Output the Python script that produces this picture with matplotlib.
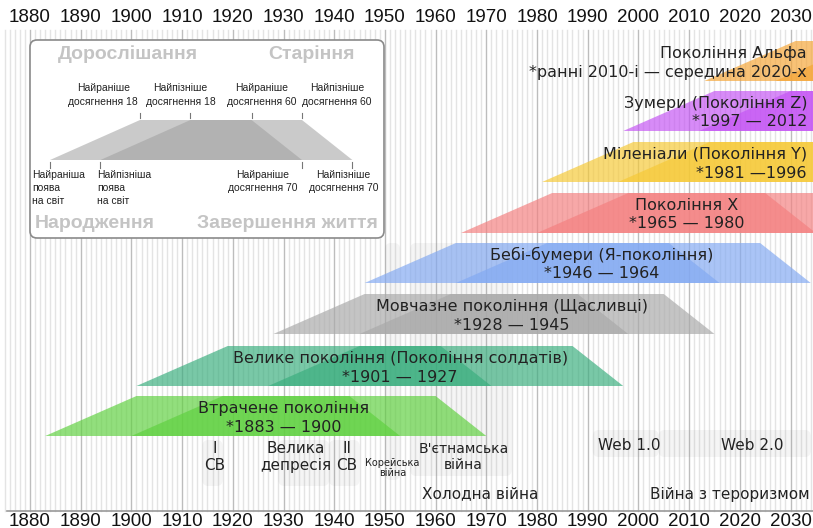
import numpy as np
import matplotlib.pyplot as plt
from matplotlib.patches import Polygon, FancyBboxPatch

# generations
gen_names = ["Втрачене покоління", "Велике покоління (Покоління солдатів)",
             "Мовчазне покоління (Щасливці)", "Бебі-бумери (Я-покоління)",
             "Покоління X", "Міленіали (Покоління Y)", "Зумери (Покоління Z)",
             "Покоління Альфа"]
gen_spans = ["*1883 — 1900", "*1901 — 1927", "*1928 — 1945", "*1946 — 1964",
             "*1965 — 1980", "*1981 —1996", "*1997 — 2012",
             "*ранні 2010-і — середина 2020-х"]
birth_first = [1883, 1901, 1928, 1946, 1965, 1981, 1997, 2013]
birth_last = [1900, 1927, 1945, 1964, 1980, 1996, 2012, 2027]
gen_colors = ["#5fd13f", "#3aae7e", "#a9a9a9", "#82a9f2", "#f47f7f",
              "#f6c935", "#c454f4", "#f5a536"]
ages = [0, 18, 60, 70]

# events
event_names = ["I\nСВ", "Велика\nдепресія", "II\nСВ", "Корейська\nвійна",
               "В'єтнамська\nвійна", "Холодна війна", "Web 1.0", "Web 2.0",
               "Війна з тероризмом"]
event_start = [1914, 1929, 1939, 1950, 1955, 1947, 1991, 2004, 2001]
event_end = [1918, 1939, 1945, 1953, 1975, 1991, 2004, 2034, 2034]

decades = list(range(1880, 2031, 10))

# pixel layout: 1880 -> 30 px, 5.07 px per year
W, H = 813, 528
ppy = 5.07
x_left = 1880 - 30 / ppy
x_right = x_left + W / ppy

fig = plt.figure(figsize=(W / 100, H / 100), dpi=100)
ax = fig.add_axes([0, 0, 1, 1])
ax.set_xlim(x_left, x_right)
ax.set_ylim(H, 0)
ax.axis("off")

# background year grid
for yr in range(1875, 2035):
    if yr % 10 == 0:
        ax.plot([yr, yr], [30, 511], color="#bdbdbd", lw=1, zorder=1)
    else:
        ax.plot([yr, yr], [30, 511], color="#e4e4e4", lw=1, zorder=0.5)
ax.plot([x_left + 7 / ppy, x_right], [511, 511], color="#9a9a9a", lw=1.2, zorder=2)

for d in decades:
    ax.text(d, 18, str(d), ha="center", va="center", fontsize=13.5,
            family="Liberation Sans", color="#111")
    ax.text(d, 521, str(d), ha="center", va="center", fontsize=13.5,
            family="Liberation Sans", color="#111")

# event bands (faint boxes) and labels
band_tops = [440, 440, 440, 243, 243, 0, 430, 430, 0]
band_bots = [486, 486, 486, 480, 476, 0, 457, 457, 0]
label_y = [457, 457, 457, 468, 457, 494, 445, 445, 494]
label_size = [11, 11, 11, 7, 10, 11, 11, 11, 11]
label_x = [1916.5, 1932.5, 1942.5, 1951.5, 1965.5, 1968.8, 1992, 2022.4, 2018]
label_ha = ["center", "center", "center", "center", "center", "center",
            "left", "center", "center"]
for i, name in enumerate(event_names):
    if band_bots[i] > band_tops[i]:
        box = FancyBboxPatch((event_start[i], band_tops[i]),
                             event_end[i] - event_start[i],
                             band_bots[i] - band_tops[i],
                             boxstyle="round,pad=0,rounding_size=1.2",
                             mutation_aspect=ppy,
                             fc="#808080", ec="none", alpha=0.08, zorder=1.5)
        ax.add_patch(box)
    ax.text(label_x[i], label_y[i], name, ha=label_ha[i], va="center",
            fontsize=label_size[i], family="DejaVu Sans", color="#222",
            linespacing=1.15 if label_size[i] > 8 else 1.0, zorder=6)

# generation trapezoids
row_top = [396, 346, 294, 243, 193, 142, 91, 41]
row_h = 40
text_x = [1930, 1953, 1975, 1992.7, 2009.5, None, None, None]
for i in range(len(gen_names)):
    top, bot = row_top[i], row_top[i] + row_h
    for b in (birth_first[i], birth_last[i]):
        pts = [(b + ages[0], bot), (b + ages[1], top),
               (b + ages[2], top), (b + ages[3], bot)]
        ax.add_patch(Polygon(pts, closed=True, fc=gen_colors[i], ec="none",
                             alpha=0.68, zorder=3))
    if text_x[i] is None:
        tx, ha = x_left + 807 / ppy, "right"
    else:
        tx, ha = text_x[i], "center"
    ax.text(tx, top + 12, gen_names[i], ha=ha, va="center", fontsize=11.5,
            family="DejaVu Sans", color="#222", zorder=6)
    ax.text(tx, top + 31, gen_spans[i], ha=ha, va="center", fontsize=11.5,
            family="DejaVu Sans", color="#222", zorder=6)

# legend box (schematic, pixel coordinates)
lg = fig.add_axes([0, 0, 1, 1])
lg.set_xlim(0, W)
lg.set_ylim(H, 0)
lg.axis("off")
lg.add_patch(FancyBboxPatch((30, 40), 354, 198,
                            boxstyle="round,pad=0,rounding_size=7",
                            fc="white", ec="#8a8a8a", lw=1.2, zorder=1))
leg_birth = [0, 14]
leg_age_pos = [0, 25, 56, 70]
leg_ppu = 3.6
leg_x0 = 50
leg_top, leg_bot = 120, 160

def lx(u):
    return leg_x0 + u * leg_ppu

for b in leg_birth:
    pts = [(lx(b + leg_age_pos[0]), leg_bot), (lx(b + leg_age_pos[1]), leg_top),
           (lx(b + leg_age_pos[2]), leg_top), (lx(b + leg_age_pos[3]), leg_bot)]
    lg.add_patch(Polygon(pts, closed=True, fc="#a0a0a0", ec="none",
                         alpha=0.55, zorder=2))

small_kw = dict(fontsize=7.5, family="Liberation Sans", color="#222")
top_labels = ["Найраніше\nдосягнення 18", "Найпізніше\nдосягнення 18",
              "Найраніше\nдосягнення 60", "Найпізніше\nдосягнення 60"]
top_pos = [leg_birth[0] + leg_age_pos[1], leg_birth[1] + leg_age_pos[1],
           leg_birth[0] + leg_age_pos[2], leg_birth[1] + leg_age_pos[2]]
# text anchor relative to its tick (px) and alignment
top_shift = [-2, -10, 10, 0]
top_ha = ["right", "center", "center", "left"]
for lab, u, dx, ha in zip(top_labels, top_pos, top_shift, top_ha):
    lg.plot([lx(u), lx(u)], [113, 118], color="#777", lw=0.8, zorder=3)
    lg.text(lx(u) + dx, 95, lab, ha=ha, va="center", linespacing=1.4,
            multialignment="center", **small_kw)

bot_labels = ["Найраніша\nпоява\nна світ", "Найпізніша\nпоява\nна світ",
              "Найраніше\nдосягнення 70", "Найпізніше\nдосягнення 70"]
bot_pos = [leg_birth[0], leg_birth[1],
           leg_birth[0] + leg_age_pos[3], leg_birth[1] + leg_age_pos[3]]
bot_shift = [-18, -3, -39, -9]
bot_ha = ["left", "left", "center", "center"]
for lab, u, dx, ha in zip(bot_labels, bot_pos, bot_shift, bot_ha):
    lg.plot([lx(u), lx(u)], [162, 168], color="#777", lw=0.8, zorder=3)
    lg.text(lx(u) + dx, 170, lab, ha=ha, va="top", linespacing=1.35,
            **small_kw)

head_kw = dict(fontsize=14, fontweight="bold", family="Liberation Sans",
               color="#c4c4c4", va="center")
lg.text(58, 54, "Дорослішання", ha="left", **head_kw)
lg.text(355, 54, "Старіння", ha="right", **head_kw)
lg.text(35, 224, "Народження", ha="left", **head_kw)
lg.text(378, 224, "Завершення життя", ha="right", **head_kw)

fig.savefig("out.png", dpi=100)
